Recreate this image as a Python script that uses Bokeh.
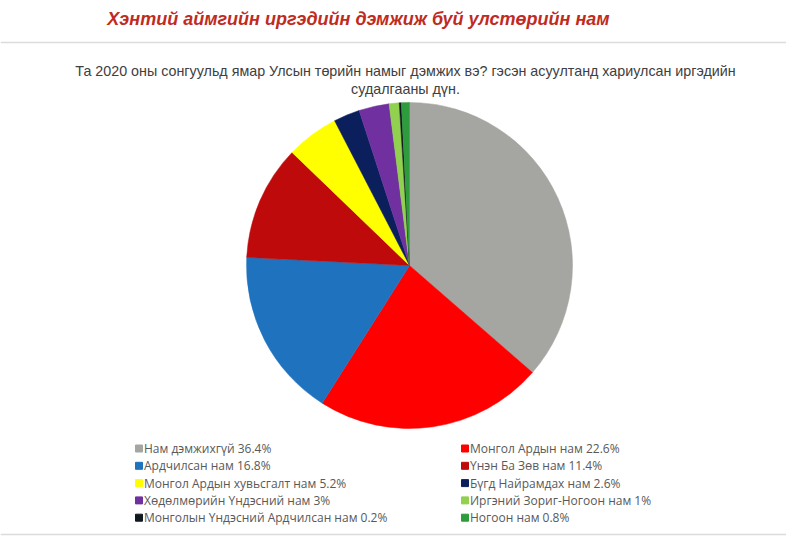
import math
from bokeh.plotting import figure
from bokeh.models import ColumnDataSource, Range1d
from bokeh.core.properties import value
from bokeh.embed import file_html
from bokeh.resources import INLINE

# ---- data ----
parties = [
    "Нам дэмжихгүй",
    "Монгол Ардын нам",
    "Ардчилсан нам",
    "Үнэн Ба Зөв нам",
    "Монгол Ардын хувьсгалт нам",
    "Бүгд Найрамдах нам",
    "Хөдөлмөрийн Үндэсний нам",
    "Иргэний Зориг-Ногоон нам",
    "Монголын Үндэсний Ардчилсан нам",
    "Ногоон нам",
]
shares = [36.4, 22.6, 16.8, 11.4, 5.2, 2.6, 3, 1, 0.2, 0.8]
colors = ["#A5A5A1", "#FF0000", "#1F72BE", "#BE0A0A", "#FFFF00",
          "#0B1F5C", "#7030A0", "#92D050", "#101820", "#2E9B3C"]

title = "Хэнтий аймгийн иргэдийн дэмжиж буй улстөрийн нам"
subtitle1 = "Та 2020 оны сонгуульд ямар Улсын төрийн намыг дэмжих вэ? гэсэн асуултанд хариулсан иргэдийн"
subtitle2 = "судалгааны дүн."

W, H = 786, 537
def px(X):  # reference x pixel -> data
    return X
def py(Y):  # reference y pixel -> data
    return H - Y

p = figure(width=W, height=H, output_backend="svg", toolbar_location=None,
           x_range=Range1d(0, W), y_range=Range1d(0, H), min_border=0,
           background_fill_color="white", border_fill_color="white")
p.axis.visible = False
p.grid.visible = False
p.outline_line_color = None

# separator lines
p.segment(x0=[0, 0], y0=[py(42), py(534)], x1=[W, W], y1=[py(42), py(534)],
          line_color="#DCDCDC", line_width=1.5)

# titles
p.text(x=[px(358)], y=[py(18)], text=[title], text_font=value("Liberation Sans"),
       text_font_size="18px", text_font_style="bold italic", text_color="#BF2B1E",
       text_align="center", text_baseline="middle")
p.text(x=[px(405), px(405)], y=[py(70), py(88)], text=[subtitle1, subtitle2],
       text_font=value("Liberation Sans"), text_font_size="14.3px", text_color="#404040",
       text_align="center", text_baseline="middle")

# pie
total = sum(shares)
starts, ends = [], []
cum = 0.0
for s in shares:
    a0 = math.pi / 2 - 2 * math.pi * cum / total
    cum += s
    a1 = math.pi / 2 - 2 * math.pi * cum / total
    starts.append(a0)
    ends.append(a1)
src = ColumnDataSource(dict(start=starts, end=ends, color=colors))
p.wedge(x=px(409), y=py(265), radius=163, start_angle="start", end_angle="end",
        direction="clock", fill_color="color", line_color="color", line_width=0.5,
        source=src)

# legend
def fmt(v):
    return ("%g" % v) + "%"
lx, ly, lt = [], [], []
for i, (name, s) in enumerate(zip(parties, shares)):
    col = i % 2
    row = i // 2
    x0 = 138.5 if col == 0 else 464.5
    y0 = 448 + row * 17.3
    lx.append(px(x0))
    ly.append(py(y0))
    lt.append(f"{name} {fmt(s)}")
p.scatter(x=lx, y=ly, marker="square", size=7, fill_color=colors, line_color=colors)
p.text(x=[x + 5 for x in lx], y=ly, text=lt, text_font=value("Open Sans"),
       text_font_size="12px", text_color="#595959", text_baseline="middle")

open("out.html", "w").write(file_html(p, INLINE))
